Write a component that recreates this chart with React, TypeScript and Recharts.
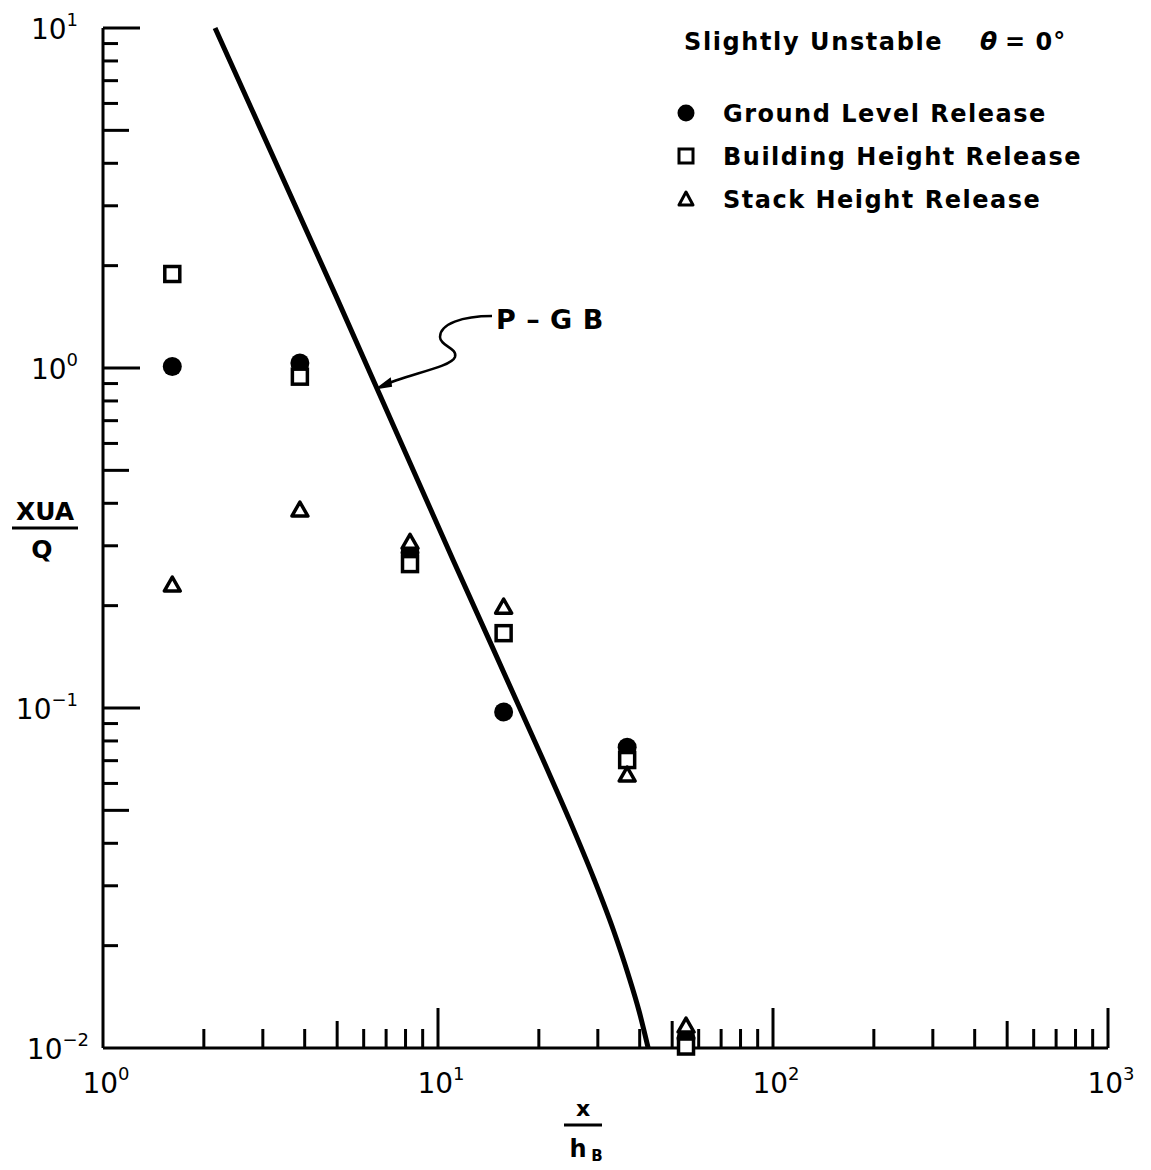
import React from 'react';
import { ComposedChart, Scatter, Line, XAxis, YAxis, Legend, Customized } from 'recharts';

// values (x = x/hB, y = XUA/Q)
const groundLevel = [
  { x: 1.61, y: 1.01 },
  { x: 3.87, y: 1.035 },
  { x: 8.25, y: 0.286 },
  { x: 15.7, y: 0.0973 },
  { x: 36.7, y: 0.0767 },
  { x: 55, y: 0.0107 },
];
const buildingHeight = [
  { x: 1.61, y: 1.89 },
  { x: 3.87, y: 0.943 },
  { x: 8.25, y: 0.265 },
  { x: 15.7, y: 0.166 },
  { x: 36.7, y: 0.0703 },
  { x: 55, y: 0.0101 },
];
const stackHeight = [
  { x: 1.61, y: 0.23 },
  { x: 3.87, y: 0.382 },
  { x: 8.25, y: 0.307 },
  { x: 15.7, y: 0.198 },
  { x: 36.7, y: 0.0635 },
  { x: 55, y: 0.0116 },
];
// P-G B curve
const pgbCurve = [
  { x: 2.16, y: 10 },
  { x: 5, y: 1.6 },
  { x: 11.1, y: 0.272 },
  { x: 20.6, y: 0.0703 },
  { x: 24.7, y: 0.0468 },
  { x: 29.3, y: 0.0312 },
  { x: 33.4, y: 0.0222 },
  { x: 37.0, y: 0.0164 },
  { x: 39.9, y: 0.01276 },
  { x: 42.4, y: 0.01 },
];

const seriesNames = ['Ground Level Release', 'Building Height Release', 'Stack Height Release'];
const xTicks = [1, 2, 3, 4, 5, 6, 7, 8, 9, 10, 20, 30, 40, 50, 60, 70, 80, 90, 100, 200, 300, 400, 500, 600, 700, 800, 900, 1000];
const yTicks = [0.01, 0.02, 0.03, 0.04, 0.05, 0.06, 0.07, 0.08, 0.09, 0.1, 0.2, 0.3, 0.4, 0.5, 0.6, 0.7, 0.8, 0.9, 1, 2, 3, 4, 5, 6, 7, 8, 9, 10];
const decadeLabels: Record<string, string> = {
  '0.01': '−2', '0.1': '−1', '1': '0', '10': '1', '100': '2', '1000': '3',
};

const FONT = '"DejaVu Sans", sans-serif';

const tickKind = (v: number) => {
  const e = Math.floor(Math.log10(v) + 1e-9);
  const m = Math.round(v / Math.pow(10, e));
  return m === 1 ? 'major' : m === 5 ? 'mid' : 'minor';
};

const XTick = (props: any) => {
  const { x, y, payload } = props;
  const v = payload.value;
  const kind = tickKind(v);
  const len = kind === 'major' ? 40 : kind === 'mid' ? 27 : 19;
  const lbl = decadeLabels[String(v)];
  return (
    <g>
      {v > 1 && <line x1={x} x2={x} y1={y} y2={y - len} stroke="#000" strokeWidth={3} />}
      {lbl !== undefined && (
        <text x={x + 3} y={y + 45} textAnchor="middle" fontFamily={FONT} fontSize={28} fill="#000">
          10<tspan dy={-13} fontSize={18}>{lbl}</tspan>
        </text>
      )}
    </g>
  );
};

const YTick = (props: any) => {
  const { x, y, payload } = props;
  const v = payload.value;
  const kind = tickKind(v);
  const len = kind === 'major' ? 37 : kind === 'mid' ? 26 : 15;
  const lbl = decadeLabels[String(v)];
  const right = v === 0.01 ? x - 14 : x - 25;
  return (
    <g>
      {v > 0.01 && <line x1={x} x2={x + len} y1={y} y2={y} stroke="#000" strokeWidth={3} />}
      {lbl !== undefined && (
        <text x={right} y={y + 11} textAnchor="end" fontFamily={FONT} fontSize={28} fill="#000">
          10<tspan dy={-13} fontSize={18}>{lbl}</tspan>
        </text>
      )}
    </g>
  );
};

const DotShape = (p: any) => <circle cx={p.cx} cy={p.cy} r={9.5} fill="#000" />;
const SquareShape = (p: any) => (
  <rect x={p.cx - 7.5} y={p.cy - 7.5} width={15} height={15} fill="#fff" stroke="#000" strokeWidth={3.5} />
);
const TriShape = (p: any) => (
  <path
    d={`M${p.cx},${p.cy - 8} L${p.cx + 8},${p.cy + 6} L${p.cx - 8},${p.cy + 6} Z`}
    fill="#fff"
    stroke="#000"
    strokeWidth={3.5}
    strokeLinejoin="round"
  />
);

const markerFor = (name: string, cx: number, cy: number) => {
  if (name === seriesNames[0]) return <circle cx={cx} cy={cy} r={8.5} fill="#000" />;
  if (name === seriesNames[1])
    return <rect x={cx - 7} y={cy - 7} width={14} height={14} fill="#fff" stroke="#000" strokeWidth={3} />;
  return (
    <path d={`M${cx},${cy - 7} L${cx + 7},${cy + 6} L${cx - 7},${cy + 6} Z`} fill="#fff" stroke="#000" strokeWidth={3} strokeLinejoin="round" />
  );
};

const LegendBox = (props: any) => {
  const names = (props.payload || []).filter((it: any) => it.type !== 'none').map((it: any) => String(it.value));
  const ordered = seriesNames.filter((n) => names.includes(n));
  const rows = [113, 156, 199];
  return (
    <svg width={491} height={230} style={{ display: 'block' }}>
      <text x={24} y={50} fontFamily={FONT} fontWeight="bold" fontSize={24} letterSpacing={1.6} fill="#000">
        Slightly Unstable
      </text>
      <text x={320} y={50} fontFamily={FONT} fontWeight="bold" fontStyle="italic" fontSize={25} fill="#000">
        θ
      </text>
      <text x={345} y={50} fontFamily={FONT} fontWeight="bold" fontSize={24} letterSpacing={1} fill="#000">
        = 0°
      </text>
      {ordered.map((name, i) => (
        <g key={name}>
          {markerFor(name, 26, rows[i])}
          <text x={63} y={rows[i] + 9} fontFamily={FONT} fontWeight="bold" fontSize={24} letterSpacing={1.5} fill="#000">
            {name}
          </text>
        </g>
      ))}
    </svg>
  );
};

const Annotations = () => (
  <g fontFamily={FONT} fill="#000">
    {/* y axis title */}
    <text x={45} y={520} textAnchor="middle" fontWeight="bold" fontSize={25}>XUA</text>
    <line x1={12} x2={78} y1={528} y2={528} stroke="#000" strokeWidth={3} />
    <text x={42} y={558} textAnchor="middle" fontWeight="bold" fontSize={25}>Q</text>
    {/* x axis title */}
    <text x={583} y={1116} textAnchor="middle" fontWeight="bold" fontSize={22}>x</text>
    <line x1={564} x2={602} y1={1125} y2={1125} stroke="#000" strokeWidth={3} />
    <text x={578} y={1157} textAnchor="middle" fontWeight="bold" fontSize={24}>h</text>
    <text x={597} y={1161} textAnchor="middle" fontWeight="bold" fontSize={15}>B</text>
    {/* P-G B pointer */}
    <path
      d="M492,316 C462,316 440,324 440,337 C440,346 458,348 455,357 C451,368 402,375 383,386"
      fill="none"
      stroke="#000"
      strokeWidth={2.5}
    />
    <path d="M378,388 L390,379 L391,386 Z" fill="#000" stroke="#000" strokeWidth={2} />
    <text x={496} y={329} fontWeight="bold" fontSize={27} letterSpacing={0.5}>P – G B</text>
  </g>
);

export default function App() {
  return (
    <div style={{ position: 'absolute', left: 0, top: 0, width: 1151, height: 1170, background: '#fff' }}>
      <ComposedChart width={1151} height={1170} margin={{ top: 28, right: 43, bottom: 0, left: 0 }}>
        <XAxis
          dataKey="x"
          type="number"
          scale="log"
          domain={[1, 1000]}
          ticks={xTicks}
          interval={0}
          height={122}
          tickSize={0}
          tickMargin={0}
          tickLine={false}
          tick={<XTick />}
          axisLine={{ stroke: '#000', strokeWidth: 3 }}
        />
        <YAxis
          dataKey="y"
          type="number"
          scale="log"
          domain={[0.01, 10]}
          ticks={yTicks}
          interval={0}
          width={103}
          tickSize={0}
          tickMargin={0}
          tickLine={false}
          tick={<YTick />}
          axisLine={{ stroke: '#000', strokeWidth: 3 }}
        />
        <Line
          data={pgbCurve}
          dataKey="y"
          type="monotone"
          stroke="#000"
          strokeWidth={5}
          dot={false}
          legendType="none"
          isAnimationActive={false}
        />
        <Scatter name={seriesNames[0]} data={groundLevel} shape={<DotShape />} isAnimationActive={false} />
        <Scatter name={seriesNames[1]} data={buildingHeight} shape={<SquareShape />} isAnimationActive={false} />
        <Scatter name={seriesNames[2]} data={stackHeight} shape={<TriShape />} isAnimationActive={false} />
        <Legend
          layout="vertical"
          align="center"
          verticalAlign="middle"
          content={<LegendBox />}
          wrapperStyle={{ left: 660, top: 0, width: 491, height: 230 }}
        />
        <Customized component={<Annotations />} />
      </ComposedChart>
    </div>
  );
}
